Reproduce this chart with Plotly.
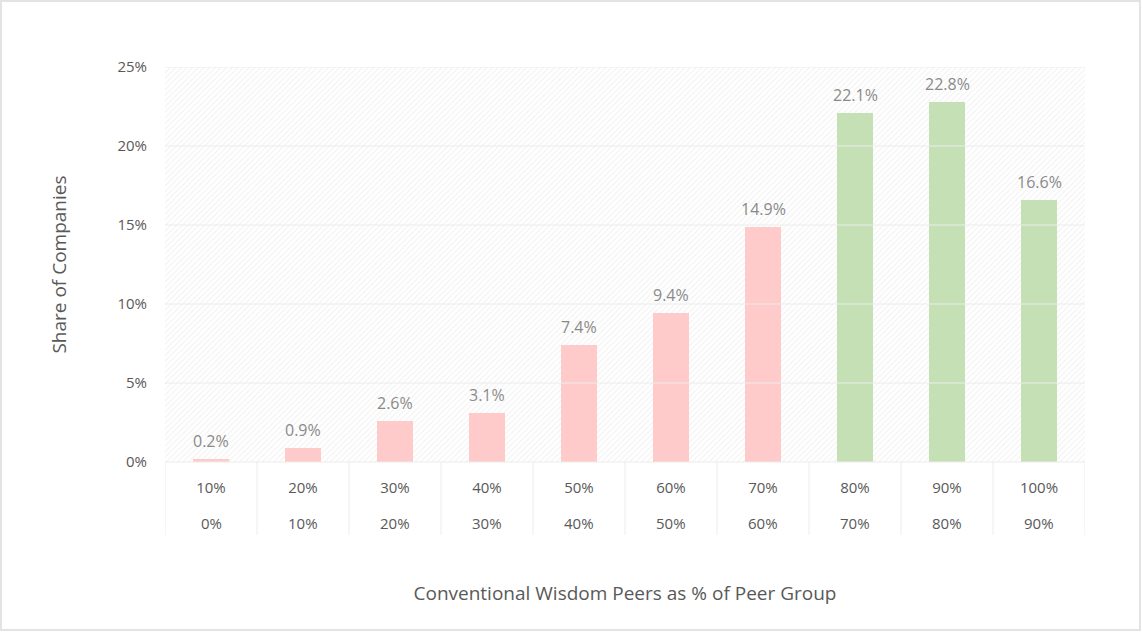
import plotly.graph_objects as go

# bins of "conventional wisdom peers" share, upper and lower bound labels
upper_labels = ["10%", "20%", "30%", "40%", "50%", "60%", "70%", "80%", "90%", "100%"]
lower_labels = ["0%", "10%", "20%", "30%", "40%", "50%", "60%", "70%", "80%", "90%"]
share = [0.2, 0.9, 2.6, 3.1, 7.4, 9.4, 14.9, 22.1, 22.8, 16.6]
y_ticks = [0, 5, 10, 15, 20, 25]

PINK = "#ffcaca"
GREEN = "#c5e0b4"
TXT = "#595959"
GRID = "#ececec"
FONT = "Open Sans"

W, H = 1142, 632
ML, MR, MT, MB = 165, 57, 67, 170

cats = list(range(len(share)))
bar_colors = [GREEN if float(u.rstrip("%")) > 70 else PINK for u in upper_labels]

fig = go.Figure()

# hatched plot background
fig.add_trace(go.Bar(
    x=cats, y=[y_ticks[-1]] * len(cats), width=1,
    marker=dict(color="white", line=dict(width=0),
                pattern=dict(shape="/", fgcolor="#e2e2e2", bgcolor="white",
                             size=4, solidity=0.25)),
    hoverinfo="skip", showlegend=False,
))

fig.add_trace(go.Bar(
    x=cats, y=share, width=0.4,
    marker=dict(color=bar_colors, line=dict(width=0)),
    hoverinfo="x+y", showlegend=False,
))

# value labels above bars
for c, v in zip(cats, share):
    fig.add_annotation(x=c, y=v, text=f"{v:.1f}%", showarrow=False,
                       yanchor="bottom", yshift=5,
                       font=dict(family=FONT, size=16, color="#8a8a8a"))

# second row of category labels (lower bound of each bin)
for c, l in zip(cats, lower_labels):
    fig.add_annotation(x=c, y=0, xref="x", yref="paper", text=l, showarrow=False,
                       yanchor="middle", yshift=-61,
                       font=dict(family=FONT, size=15, color=TXT))

# horizontal gridlines drawn over the hatching
for t in y_ticks[1:]:
    fig.add_shape(type="line", xref="paper", yref="y", x0=0, x1=1, y0=t, y1=t,
                  line=dict(color=GRID, width=1))

# category dividers below the axis
plot_h = H - MT - MB
ext = -73 / plot_h
for i in range(len(cats) + 1):
    fig.add_shape(type="line", xref="x", yref="paper", x0=i - 0.5, x1=i - 0.5,
                  y0=0, y1=ext, line=dict(color=GRID, width=1))
fig.add_shape(type="line", xref="paper", yref="paper", x0=0, x1=1, y0=0, y1=0,
              line=dict(color=GRID, width=1))

# outer chart border
plot_w = W - ML - MR
fig.add_shape(type="rect", xref="paper", yref="paper",
              x0=-(ML - 1) / plot_w, x1=(plot_w + MR - 2) / plot_w,
              y0=-(MB - 2) / plot_h, y1=(plot_h + MT - 1) / plot_h,
              line=dict(color="#e3e3e3", width=2), layer="below")

fig.update_layout(
    width=W, height=H,
    margin=dict(l=ML, r=MR, t=MT, b=MB),
    paper_bgcolor="white", plot_bgcolor="white",
    barmode="overlay", bargap=0,
    font=dict(family=FONT, color=TXT),
    xaxis=dict(
        tickmode="array", tickvals=cats, ticktext=upper_labels,
        tickfont=dict(size=15, color=TXT), range=[-0.5, len(cats) - 0.5],
        showgrid=False, zeroline=False, ticks="outside", ticklen=12,
        tickcolor="rgba(0,0,0,0)", showline=False,
        title=dict(text="Conventional Wisdom Peers as % of Peer Group",
                   font=dict(size=19, color=TXT), standoff=90),
    ),
    yaxis=dict(
        range=[0, y_ticks[-1]], tickvals=y_ticks,
        ticktext=[f"{t}%" for t in y_ticks],
        tickfont=dict(size=15, color=TXT), showgrid=False, zeroline=False,
        ticks="outside", ticklen=14, tickcolor="rgba(0,0,0,0)",
        title=dict(text="Share of Companies", font=dict(size=19, color=TXT),
                   standoff=45),
    ),
)

fig.write_html("out.html", config={"displayModeBar": False},
               post_script="document.body.style.margin='0';")
